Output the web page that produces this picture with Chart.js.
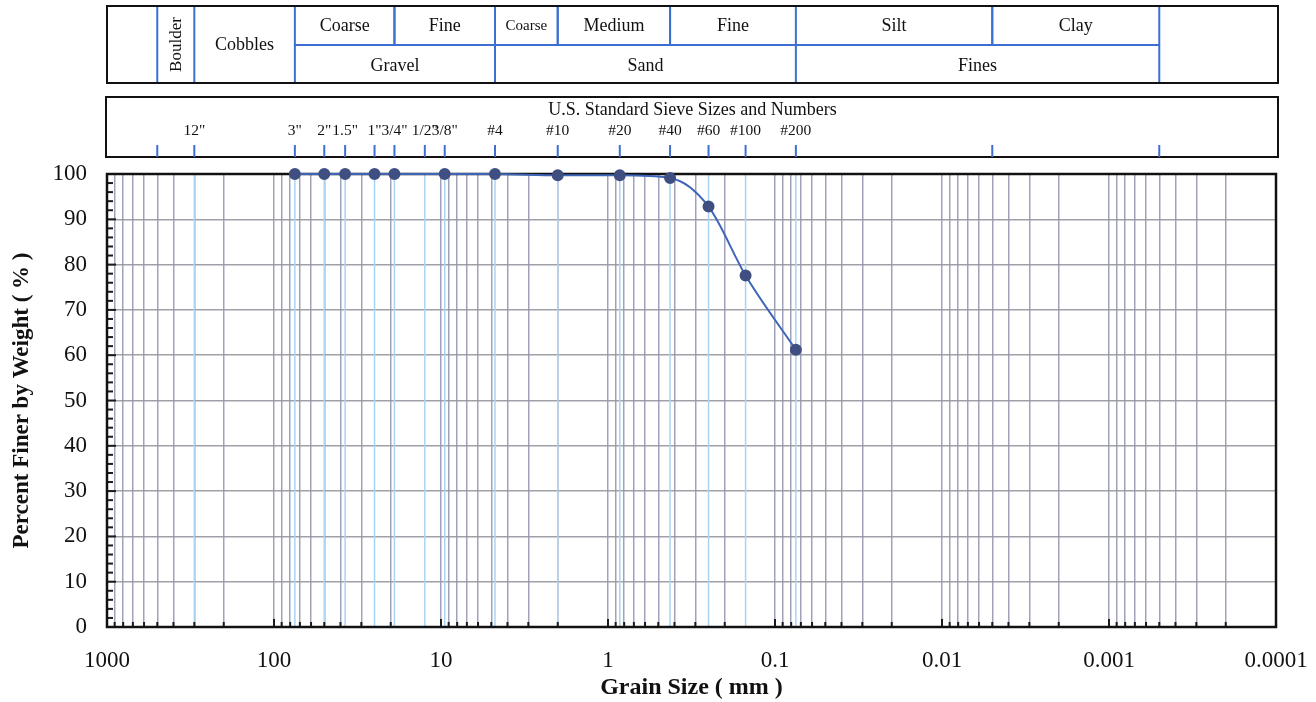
<!DOCTYPE html>
<html>
<head>
<meta charset="utf-8">
<title>Grain Size Distribution</title>
<script src="https://cdn.jsdelivr.net/npm/chart.js@4.4.1/dist/chart.umd.min.js"></script>
<style>
  html, body { margin: 0; padding: 0; background: #ffffff; }
  #wrap { width: 1316px; height: 702px; position: relative; }
</style>
</head>
<body>
<div id="wrap"><canvas id="c" width="1316" height="702"></canvas></div>
<script>
// ---------------- data ----------------
const decadeValues = [1000, 100, 10, 1, 0.1, 0.01, 0.001, 0.0001];
const decadeLabels = ['1000', '100', '10', '1', '0.1', '0.01', '0.001', '0.0001'];
const gridMultipliers = [9, 8, 7, 6, 5, 4, 3, 2, 1];

const sieveLabels = ['12"', '3"', '2"', '1.5"', '1"', '3/4"', '1/2"', '3/8"', '#4', '#10', '#20', '#40', '#60', '#100', '#200'];
const sieveSizes  = [300, 75, 50, 37.5, 25, 19, 12.5, 9.5, 4.75, 2.0, 0.85, 0.425, 0.25, 0.15, 0.075];
const extraSieveTicks = [500, 0.005, 0.0005];

const testSizes    = [75, 50, 37.5, 25, 19, 9.5, 4.75, 2.0, 0.85, 0.425, 0.25, 0.15, 0.075];
const percentFiner = [100, 100, 100, 100, 100, 100, 100, 99.7, 99.7, 99.1, 92.8, 77.6, 61.2];

const yTickStep = 10;
const yMinorStep = 2;

// classification bands: [label, from (mm), to (mm)]
const spanningBands = [['Boulder', 500, 300], ['Cobbles', 300, 75]];
const subBands = [['Coarse', 75, 19], ['Fine', 19, 4.75], ['Coarse', 4.75, 2], ['Medium', 2, 0.425], ['Fine', 0.425, 0.075], ['Silt', 0.075, 0.005], ['Clay', 0.005, 0.0005]];
const groupBands = [['Gravel', 75, 4.75], ['Sand', 4.75, 0.075], ['Fines', 0.075, 0.0005]];
const sieveTitle = 'U.S. Standard Sieve Sizes and Numbers';

// ---------------- chart ----------------
const SERIF = "'Liberation Serif', 'Times New Roman', serif";
Chart.defaults.font.family = SERIF;
Chart.defaults.color = '#111';

// grid positions: k * 10^n within each decade, plus the top bound
const gridSet = [decadeValues[0]];
decadeValues.slice(0, -1).forEach(d => {
  gridMultipliers.forEach(m => gridSet.push(m * d / 10));
});

function decadeIndex(v) {
  return decadeValues.findIndex(d => Math.abs(d - v) / d < 1e-9);
}
function decadeLabel(v) {
  const i = decadeIndex(v);
  return i >= 0 ? decadeLabels[i] : '';
}

const overlay = {
  id: 'overlay',
  beforeDatasetsDraw(chart) {
    const { ctx, chartArea: a, scales: { x, y } } = chart;
    ctx.save();
    // light blue sieve lines
    ctx.strokeStyle = '#aad4f3';
    ctx.lineWidth = 1.5;
    sieveSizes.forEach(s => {
      const px = x.getPixelForValue(s);
      ctx.beginPath(); ctx.moveTo(px, a.top); ctx.lineTo(px, a.bottom); ctx.stroke();
    });
    // bottom tick marks (inside)
    ctx.strokeStyle = '#1a1a1a';
    ctx.lineWidth = 2;
    gridSet.forEach(v => {
      const px = x.getPixelForValue(v);
      const len = decadeIndex(v) >= 0 ? 8 : 5;
      ctx.beginPath(); ctx.moveTo(px, a.bottom); ctx.lineTo(px, a.bottom - len); ctx.stroke();
    });
    // left tick marks (inside)
    for (let v = 0; v <= 100; v += yMinorStep) {
      const py = y.getPixelForValue(v);
      const len = v % yTickStep === 0 ? 9 : 6;
      ctx.beginPath(); ctx.moveTo(a.left, py); ctx.lineTo(a.left + len, py); ctx.stroke();
    }
    // border
    ctx.strokeStyle = '#111';
    ctx.lineWidth = 2.5;
    ctx.strokeRect(a.left, a.top, a.right - a.left, a.bottom - a.top);
    ctx.restore();
  },
  afterDraw(chart) {
    const { ctx, chartArea: a, scales: { x } } = chart;
    const X = v => x.getPixelForValue(v);
    const L = X(decadeValues[0]), R = a.right + 2;
    const blue = '#3d6fd0';
    ctx.save();

    // ---------- classification table ----------
    const t1Top = 6, t1Bot = 83, t1Mid = 45;
    ctx.strokeStyle = blue;
    ctx.lineWidth = 2;
    const fullDiv = new Set();
    spanningBands.forEach(b => { fullDiv.add(b[1]); fullDiv.add(b[2]); });
    groupBands.forEach(b => { fullDiv.add(b[1]); fullDiv.add(b[2]); });
    fullDiv.forEach(v => {
      const px = X(v);
      ctx.beginPath(); ctx.moveTo(px, t1Top); ctx.lineTo(px, t1Bot); ctx.stroke();
    });
    subBands.forEach(b => {
      [b[1], b[2]].forEach(v => {
        if (fullDiv.has(v)) return;
        const px = X(v);
        ctx.beginPath(); ctx.moveTo(px, t1Top); ctx.lineTo(px, t1Mid); ctx.stroke();
      });
    });
    ctx.beginPath();
    ctx.moveTo(X(groupBands[0][1]), t1Mid);
    ctx.lineTo(X(groupBands[groupBands.length - 1][2]), t1Mid);
    ctx.stroke();
    ctx.strokeStyle = '#111';
    ctx.lineWidth = 2;
    ctx.strokeRect(L, t1Top, R - L, t1Bot - t1Top);

    ctx.fillStyle = '#111';
    ctx.textAlign = 'center';
    ctx.textBaseline = 'middle';
    // Boulder rotated
    ctx.save();
    ctx.translate((X(spanningBands[0][1]) + X(spanningBands[0][2])) / 2, (t1Top + t1Bot) / 2);
    ctx.rotate(-Math.PI / 2);
    ctx.font = '17px ' + SERIF;
    ctx.fillText(spanningBands[0][0], 0, 1);
    ctx.restore();
    ctx.font = '18px ' + SERIF;
    ctx.fillText(spanningBands[1][0], (X(spanningBands[1][1]) + X(spanningBands[1][2])) / 2, (t1Top + t1Bot) / 2 + 1);
    subBands.forEach(b => {
      const w = X(b[2]) - X(b[1]);
      ctx.font = (w < 70 ? '15px ' : '18px ') + SERIF;
      ctx.fillText(b[0], (X(b[1]) + X(b[2])) / 2, (t1Top + t1Mid) / 2 + 1);
    });
    ctx.font = '18px ' + SERIF;
    groupBands.forEach(b => {
      ctx.fillText(b[0], (X(b[1]) + X(b[2])) / 2, (t1Mid + t1Bot) / 2 + 2);
    });

    // ---------- sieve table ----------
    const t2Top = 97, t2Bot = 157;
    ctx.strokeStyle = '#111';
    ctx.lineWidth = 2;
    ctx.strokeRect(L - 1, t2Top, R - L + 1, t2Bot - t2Top);
    ctx.font = '18px ' + SERIF;
    ctx.fillText(sieveTitle, (L + R) / 2, 110);
    ctx.strokeStyle = blue;
    ctx.lineWidth = 2;
    sieveSizes.concat(extraSieveTicks).forEach(s => {
      const px = X(s);
      ctx.beginPath(); ctx.moveTo(px, 145); ctx.lineTo(px, t2Bot); ctx.stroke();
    });
    ctx.font = '15.5px ' + SERIF;
    sieveLabels.forEach((lab, i) => {
      ctx.fillText(lab, X(sieveSizes[i]), 131);
    });
    ctx.restore();
  }
};

new Chart(document.getElementById('c'), {
  type: 'line',
  data: {
    datasets: [{
      data: testSizes.map((s, i) => ({ x: s, y: percentFiner[i] })),
      borderColor: '#3e66b8',
      borderWidth: 2,
      backgroundColor: '#3f4f82',
      pointBackgroundColor: '#3f4f82',
      pointBorderColor: '#3f4f82',
      pointRadius: 5,
      cubicInterpolationMode: 'monotone',
      clip: false
    }]
  },
  options: {
    responsive: false,
    animation: false,
    devicePixelRatio: 1,
    layout: { padding: { top: 174, right: 40, left: 0, bottom: 0 } },
    plugins: { legend: { display: false }, tooltip: { enabled: false } },
    scales: {
      x: {
        type: 'logarithmic',
        reverse: true,
        min: decadeValues[decadeValues.length - 1],
        max: decadeValues[0],
        afterBuildTicks: scale => { scale.ticks = gridSet.map(v => ({ value: v })); },
        afterFit: scale => { scale.height = 75; scale.paddingLeft = 0; scale.paddingRight = 0; },
        ticks: {
          autoSkip: false,
          maxRotation: 0,
          padding: 20,
          font: { size: 23 },
          color: '#111',
          callback: v => decadeLabel(v)
        },
        grid: { color: 'rgba(150,152,178,0.9)', lineWidth: 1.5, drawTicks: false },
        border: { display: false },
        title: {
          display: true,
          text: 'Grain Size ( mm )',
          font: { size: 24, weight: 'bold' },
          color: '#111',
          padding: { top: 0, bottom: 0 }
        }
      },
      y: {
        min: 0,
        max: 100,
        afterFit: scale => { scale.width = 107; },
        ticks: { stepSize: yTickStep, padding: 20, font: { size: 23 }, color: '#111' },
        grid: { color: 'rgba(150,150,160,0.9)', lineWidth: 1.5, drawTicks: false },
        border: { display: false },
        title: {
          display: true,
          text: 'Percent Finer by Weight ( % )',
          font: { size: 23, weight: 'bold' },
          color: '#111',
          padding: { top: 8, bottom: 0 }
        }
      }
    }
  },
  plugins: [overlay]
});
</script>
</body>
</html>
